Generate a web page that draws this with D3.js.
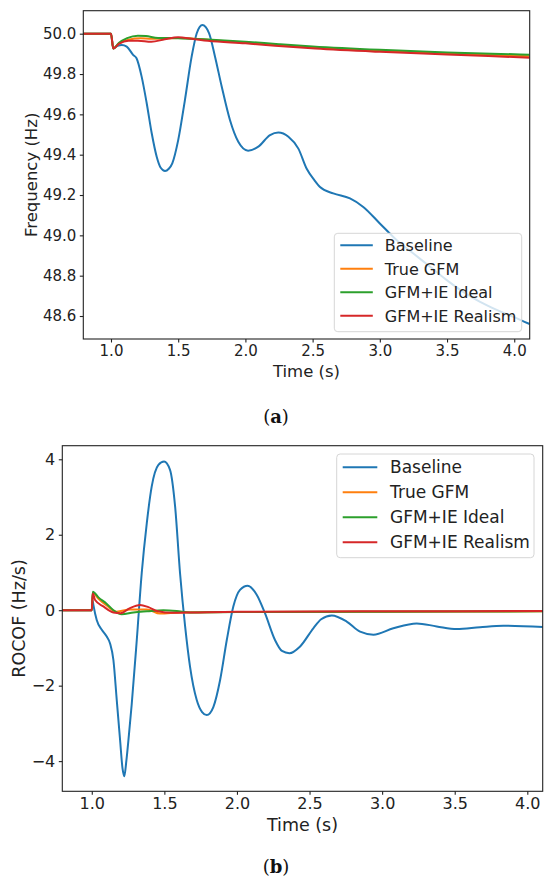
<!DOCTYPE html>
<html>
<head>
<meta charset="utf-8">
<script src="https://cdn.jsdelivr.net/npm/d3@7"></script>
<style>
  body { margin: 0; background: #fff; }
  svg { display: block; font-family: "DejaVu Sans", sans-serif; }
</style>
</head>
<body>
<div id="chart"></div>
<script>
// series names and colours (matplotlib tab10)
const seriesNames = ["Baseline", "True GFM", "GFM+IE Ideal", "GFM+IE Realism"];
const seriesColors = ["#1f77b4", "#ff7f0e", "#2ca02c", "#d62728"];

const timeTicks = [1.0, 1.5, 2.0, 2.5, 3.0, 3.5, 4.0];
const freqTicks = [48.6, 48.8, 49.0, 49.2, 49.4, 49.6, 49.8, 50.0];
const rocofTicks = [-4, -2, 0, 2, 4];

// (a) frequency, [time s, Hz]
const baselineFreq = [[0.79,50.0],[1.0,50.0],[1.017,49.927],[1.05,49.94],[1.08,49.944],[1.117,49.936],[1.166,49.894],[1.19,49.878],[1.228,49.787],[1.266,49.654],[1.303,49.506],[1.34,49.39],[1.37,49.335],[1.402,49.319],[1.43,49.33],[1.456,49.357],[1.5,49.472],[1.55,49.671],[1.6,49.886],[1.638,50.002],[1.68,50.043],[1.73,50.002],[1.774,49.886],[1.824,49.737],[1.885,49.572],[1.947,49.464],[2.02,49.42],[2.096,49.44],[2.183,49.497],[2.245,49.51],[2.32,49.489],[2.394,49.43],[2.456,49.33],[2.513,49.274],[2.555,49.24],[2.654,49.208],[2.778,49.183],[2.877,49.141],[3.0,49.059],[3.126,48.976],[3.25,48.91],[3.374,48.844],[3.498,48.778],[3.62,48.72],[3.746,48.67],[3.87,48.63],[3.994,48.596],[4.115,48.56]];
const trueGfmFreq = [[0.79,50.0],[1.0,50.0],[1.017,49.927],[1.06,49.952],[1.13,49.97],[1.22,49.977],[1.3,49.975],[1.4,49.975],[1.5,49.979],[1.75,49.968],[2.0,49.955],[2.5,49.932],[3.0,49.915],[3.5,49.902],[4.115,49.888]];
const idealFreq = [[0.79,50.0],[1.0,50.0],[1.017,49.927],[1.06,49.955],[1.12,49.978],[1.2,49.99],[1.26,49.988],[1.35,49.979],[1.5,49.978],[1.75,49.97],[2.0,49.96],[2.25,49.948],[2.5,49.937],[3.0,49.92],[3.5,49.907],[4.115,49.896]];
const realismFreq = [[0.79,50.0],[1.0,50.0],[1.017,49.927],[1.06,49.95],[1.13,49.965],[1.2,49.965],[1.3,49.96],[1.4,49.972],[1.5,49.982],[1.6,49.975],[1.72,49.965],[2.0,49.952],[2.22,49.94],[2.52,49.926],[3.0,49.91],[3.5,49.897],[4.115,49.881]];

// (b) ROCOF, [time s, Hz/s]
const baselineRocof = [[0.79,0],[1.0,0],[1.006,0.25],[1.011,0.14],[1.034,-0.26],[1.069,-0.52],[1.103,-0.7],[1.126,-0.88],[1.149,-1.32],[1.172,-2.38],[1.195,-3.44],[1.212,-4.2],[1.224,-4.4],[1.238,-4.0],[1.256,-3.3],[1.275,-2.5],[1.31,-0.79],[1.344,0.98],[1.379,2.31],[1.413,3.28],[1.459,3.85],[1.498,3.94],[1.539,3.72],[1.574,2.75],[1.608,0.98],[1.643,-0.43],[1.677,-1.5],[1.723,-2.38],[1.76,-2.7],[1.792,-2.78],[1.838,-2.56],[1.884,-1.85],[1.93,-0.79],[1.975,0.1],[2.021,0.54],[2.074,0.65],[2.136,0.41],[2.193,-0.08],[2.262,-0.79],[2.31,-1.08],[2.361,-1.14],[2.435,-0.96],[2.526,-0.48],[2.58,-0.24],[2.653,-0.14],[2.756,-0.3],[2.848,-0.57],[2.94,-0.65],[3.077,-0.48],[3.238,-0.35],[3.376,-0.43],[3.514,-0.5],[3.674,-0.45],[3.835,-0.41],[4.115,-0.45]];
const trueGfmRocof = [[0.79,0],[1.0,0],[1.007,0.46],[1.046,0.3],[1.1,0.13],[1.172,-0.04],[1.264,0.02],[1.38,0.02],[1.47,-0.09],[1.61,-0.06],[2.0,-0.05],[3.0,-0.04],[4.115,-0.03]];
const idealRocof = [[0.79,0],[1.0,0],[1.007,0.49],[1.046,0.34],[1.1,0.18],[1.149,0],[1.206,-0.11],[1.287,-0.06],[1.38,-0.03],[1.493,0],[1.585,-0.02],[1.677,-0.06],[2.0,-0.05],[3.0,-0.04],[4.115,-0.03]];
const realismRocof = [[0.79,0],[1.0,0],[1.007,0.44],[1.023,0.27],[1.08,0.1],[1.149,-0.06],[1.2,-0.08],[1.26,0.05],[1.333,0.14],[1.39,0.08],[1.448,-0.02],[1.562,-0.07],[1.7,-0.06],[2.0,-0.04],[3.0,-0.03],[4.115,-0.02]];

const W = 550, H = 885;
const svg = d3.select("#chart").append("svg")
  .attr("width", W).attr("height", H);

function drawPanel(o) {
  const x = d3.scaleLinear().domain(o.xDomain).range([o.left, o.right]);
  const y = d3.scaleLinear().domain(o.yDomain).range([o.bottom, o.top]);
  const g = svg.append("g");

  g.append("clipPath").attr("id", o.id + "-clip")
    .append("rect")
    .attr("x", o.left).attr("y", o.top)
    .attr("width", o.right - o.left).attr("height", o.bottom - o.top);

  const line = d3.line()
    .x(d => x(d[0])).y(d => y(d[1]))
    .curve(d3.curveMonotoneX);

  g.append("g").attr("clip-path", `url(#${o.id}-clip)`)
    .selectAll("path")
    .data(o.series)
    .join("path")
    .attr("d", line)
    .attr("fill", "none")
    .attr("stroke", (d, i) => seriesColors[i])
    .attr("stroke-width", 2)
    .attr("stroke-linejoin", "round");

  // spines
  g.append("rect")
    .attr("x", o.left).attr("y", o.top)
    .attr("width", o.right - o.left).attr("height", o.bottom - o.top)
    .attr("fill", "none").attr("stroke", "#222").attr("stroke-width", 1.1);

  const xAxis = g.append("g")
    .attr("transform", `translate(0,${o.bottom})`)
    .call(d3.axisBottom(x).tickValues(timeTicks).tickFormat(d3.format(".1f"))
      .tickSize(3.5).tickPadding(3));
  const yAxis = g.append("g")
    .attr("transform", `translate(${o.left},0)`)
    .call(d3.axisLeft(y).tickValues(o.yTicks).tickFormat(o.yFormat)
      .tickSize(3.5).tickPadding(3.5));
  [xAxis, yAxis].forEach(a => {
    a.select(".domain").remove();
    a.selectAll(".tick line").attr("stroke", "#222").attr("stroke-width", 1.1);
    a.selectAll("text").attr("fill", "#222")
      .style("font-family", "DejaVu Sans").style("font-size", o.tickFont + "px");
  });

  g.append("text")
    .attr("x", (o.left + o.right) / 2).attr("y", o.xLabelY)
    .attr("text-anchor", "middle").attr("fill", "#222")
    .style("font-size", o.labelFont + "px")
    .text("Time (s)");
  g.append("text")
    .attr("transform", `translate(${o.yLabelX},${(o.top + o.bottom) / 2}) rotate(-90)`)
    .attr("text-anchor", "middle").attr("dominant-baseline", "central").attr("fill", "#222")
    .style("font-size", o.labelFont + "px")
    .text(o.yLabel);

  // legend
  const L = o.legend;
  const lg = g.append("g");
  lg.append("rect")
    .attr("x", L.x).attr("y", L.y).attr("width", L.w).attr("height", L.h)
    .attr("rx", 3.5)
    .attr("fill", "#fff").attr("fill-opacity", 0.8)
    .attr("stroke", "#d6d6d6").attr("stroke-width", 1);
  const rows = lg.selectAll("g.row").data(seriesNames).join("g")
    .attr("class", "row")
    .attr("transform", (d, i) => `translate(0,${L.y + L.first + i * L.step})`);
  rows.append("line")
    .attr("x1", L.x + L.h1).attr("x2", L.x + L.h2)
    .attr("stroke", (d, i) => seriesColors[i]).attr("stroke-width", 2);
  rows.append("text")
    .attr("x", L.x + L.tx).attr("dy", "0.36em")
    .attr("fill", "#222").style("font-size", o.legendFont + "px")
    .text(d => d);

  // caption
  const cap = svg.append("text")
    .attr("x", o.capX).attr("y", o.capY)
    .attr("text-anchor", "middle")
    .style("font-family", "'DejaVu Serif', serif").style("font-size", "18px")
    .attr("fill", "#111");
  cap.append("tspan").text("(");
  cap.append("tspan").style("font-weight", "bold").text(o.capLetter);
  cap.append("tspan").text(")");
}

drawPanel({
  id: "freq",
  left: 83.3, right: 529.7, top: 10.7, bottom: 339,
  xDomain: [0.794, 4.115], yDomain: [48.486, 50.114],
  yTicks: freqTicks, yFormat: d3.format(".1f"),
  series: [baselineFreq, trueGfmFreq, idealFreq, realismFreq],
  tickFont: 15, labelFont: 16.5, legendFont: 16,
  xLabelY: 377, yLabelX: 31.5, yLabel: "Frequency (Hz)",
  legend: { x: 334.3, y: 233.3, w: 187.4, h: 98.4, first: 12, step: 23.5, h1: 6, h2: 38.5, tx: 50.5 },
  capX: 276, capY: 423, capLetter: "a"
});

drawPanel({
  id: "rocof",
  left: 62.3, right: 542.7, top: 445.7, bottom: 791.3,
  xDomain: [0.797, 4.106], yDomain: [-4.80, 4.36],
  yTicks: rocofTicks, yFormat: d => d3.format("d")(d).replace("-", "\u2212"),
  series: [baselineRocof, trueGfmRocof, idealRocof, realismRocof],
  tickFont: 16, labelFont: 17.5, legendFont: 17,
  xLabelY: 831, yLabelX: 18.5, yLabel: "ROCOF (Hz/s)",
  legend: { x: 336.7, y: 454, w: 197.3, h: 103.7, first: 13.3, step: 25, h1: 6, h2: 40.6, tx: 53.3 },
  capX: 276, capY: 873, capLetter: "b"
});
</script>
</body>
</html>
